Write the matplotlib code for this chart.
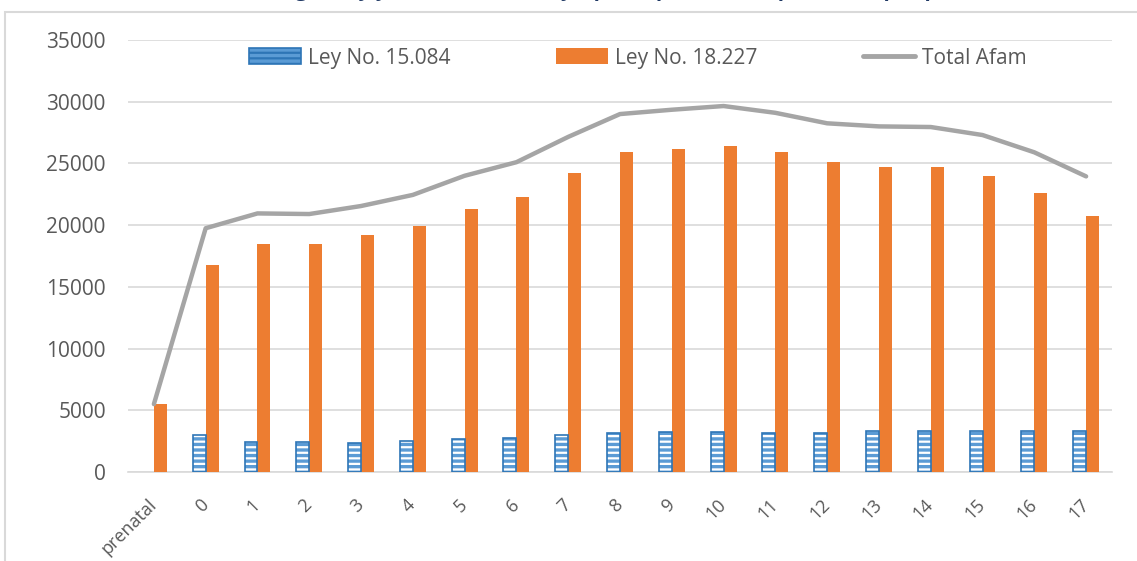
import numpy as np
import matplotlib
matplotlib.use("Agg")
import matplotlib.pyplot as plt
from matplotlib.patches import Patch, Rectangle
from matplotlib.lines import Line2D
from matplotlib.transforms import ScaledTranslation

plt.rcParams["font.family"] = ["Open Sans", "DejaVu Sans"]
plt.rcParams["hatch.linewidth"] = 1.6

# Data
ages = ["prenatal", "0", "1", "2", "3", "4", "5", "6", "7", "8",
        "9", "10", "11", "12", "13", "14", "15", "16", "17"]
ley_15084 = [0, 3000, 2430, 2430, 2350, 2510, 2670, 2750, 3000, 3160,
             3240, 3240, 3160, 3160, 3320, 3320, 3320, 3300, 3300]
ley_18227 = [5500, 16750, 18500, 18500, 19200, 19950, 21300, 22300, 24200, 25900,
             26150, 26400, 25950, 25100, 24700, 24700, 24000, 22600, 20750]
total_afam = [5500, 19750, 20950, 20900, 21550, 22450, 24000, 25100, 27150, 29000,
              29350, 29650, 29100, 28250, 28000, 27950, 27300, 25900, 23950]

blue = "#5B9BD5"
blue_edge = "#2E75B6"
orange = "#ED7D31"
gray = "#A5A5A5"
text_col = "#595959"
grid_col = "#D9D9D9"

fig = plt.figure(figsize=(11.37, 5.61), dpi=100)
ax = fig.add_axes([128 / 1137, 89 / 561, 984 / 1137, 432 / 561])

x = np.arange(len(ages))
w = 0.25

# blue hatched bars: white stripes, then outline only where there is a value
b15 = np.array(ley_15084, dtype=float)
has15 = b15 > 0
ax.bar(x[has15] - w / 2, b15[has15], w, color=blue, edgecolor="white",
       hatch="---", linewidth=0, zorder=3)
ax.bar(x[has15] - w / 2, b15[has15], w, facecolor="none", edgecolor=blue_edge,
       linewidth=1.2, zorder=4)
ax.bar(x + w / 2, ley_18227, w, color=orange, zorder=3)
ax.plot(x, total_afam, color=gray, linewidth=3.2, solid_capstyle="round", zorder=5)

ax.set_xlim(-0.5, len(ages) - 0.5)
ax.set_ylim(0, 35000)
ax.set_yticks(np.arange(0, 35001, 5000))
ax.yaxis.grid(True, color=grid_col, linewidth=1.2)
ax.set_axisbelow(True)
for s in ["top", "right", "left"]:
    ax.spines[s].set_visible(False)
ax.spines["bottom"].set_color(grid_col)
ax.spines["bottom"].set_linewidth(1.2)
ax.tick_params(length=0, colors=text_col, labelsize=15)
ax.tick_params(axis="y", pad=16)

# x category labels, rotated, placed under each category
ax.set_xticks(x)
ax.set_xticklabels([])
lbl_trans = ax.get_xaxis_transform() + ScaledTranslation(0.0, -0.30, fig.dpi_scale_trans)
for i, a in enumerate(ages):
    ax.text(i, 0, a, transform=lbl_trans, rotation=45, ha="right", va="center",
            rotation_mode="anchor", fontsize=13, color=text_col, clip_on=False)

handles = [
    Patch(facecolor=blue, edgecolor=blue_edge, hatch="---", linewidth=1.2),
    Patch(facecolor=orange),
    Line2D([0], [0], color=gray, linewidth=3.5, solid_capstyle="round"),
]
ax.legend(handles, ["Ley No. 15.084", "Ley No. 18.227", "Total Afam"],
          ncol=3, loc="center", bbox_to_anchor=(0.518, 0.958),
          frameon=False, fontsize=15, handlelength=2.5, handleheight=0.8,
          handletextpad=0.3, columnspacing=5.1, labelcolor=text_col)

# chart area border and title cut off at the top edge
fig.patches.append(Rectangle((5 / 1137, -0.1), 1.2, (561 - 12) / 561 + 0.1,
                             transform=fig.transFigure, fill=False,
                             edgecolor=grid_col, linewidth=1.5))
fig.text(0.5, 1 + 4 / 561, "Beneficiarios según ley y edad del menor y tipo de prestación, promedio por periodo",
         ha="center", va="baseline", fontsize=15, fontweight="bold", color="#1F3864")

fig.savefig("out.png", dpi=100)
